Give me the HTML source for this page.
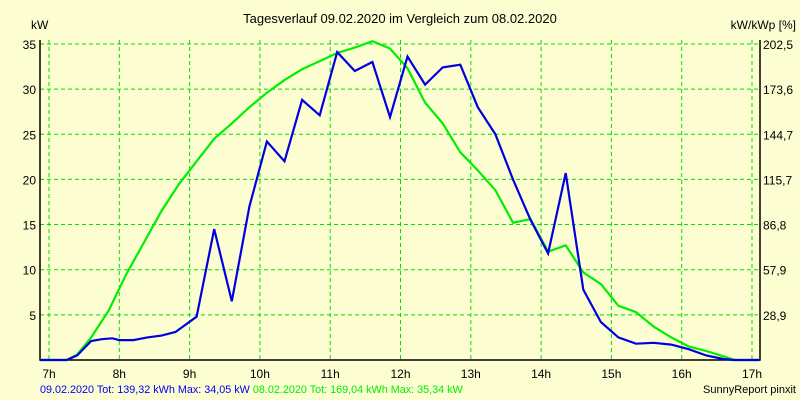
<!DOCTYPE html>
<html><head><meta charset="utf-8"><style>
body{margin:0;background:#fdfdd2;}
svg{display:block;font-family:"Liberation Sans",sans-serif;font-size:12px;}
</style></head><body>
<svg width="800" height="400">
<rect width="800" height="400" fill="#fdfdd2"/>
<g id="grid"></g><g id="axes"></g><g id="series"></g>
<text x="400" y="23" text-anchor="middle" font-size="13">Tagesverlauf 09.02.2020 im Vergleich zum 08.02.2020</text>
<text x="31" y="29">kW</text>
<text x="796" y="29" text-anchor="end">kW/kWp [%]</text>
<text x="40" y="393" font-size="10.8"><tspan fill="#0000ee">09.02.2020 Tot: 139,32 kWh Max: 34,05 kW</tspan><tspan fill="#00ee00"> 08.02.2020 Tot: 169,04 kWh Max: 35,34 kW</tspan></text>
<text x="796" y="393" text-anchor="end" font-size="11">SunnyReport pinxit</text>
</svg>
<script>
const hours=[7,8,9,10,11,12,13,14,15,16,17];
const yTicks=[5,10,15,20,25,30,35];
const y2Labels=["28,9","57,9","86,8","115,7","144,7","173,6","202,5"];
const blueT=[6.87,7.25,7.4,7.6,7.75,7.9,8.0,8.2,8.4,8.6,8.8,9.1,9.35,9.6,9.85,10.1,10.35,10.6,10.85,11.1,11.35,11.6,11.85,12.1,12.35,12.6,12.85,13.1,13.35,13.6,13.85,14.1,14.35,14.6,14.85,15.1,15.35,15.6,15.85,16.1,16.35,16.6,16.75,17.11];
const blueV=[0,0,0.5,2.1,2.3,2.4,2.2,2.2,2.5,2.7,3.1,4.8,14.5,6.5,17,24.2,22,28.8,27.1,34.1,32,33,26.9,33.6,30.5,32.4,32.7,28,25,20,15.5,11.8,20.7,7.8,4.2,2.5,1.8,1.9,1.7,1.2,0.5,0.1,0,0];
const greenT=[6.87,7.25,7.4,7.6,7.85,8.1,8.35,8.6,8.85,9.1,9.35,9.6,9.85,10.1,10.35,10.6,10.85,11.1,11.35,11.6,11.85,12.1,12.35,12.6,12.85,13.1,13.35,13.6,13.85,14.1,14.35,14.6,14.85,15.1,15.35,15.6,15.85,16.1,16.35,16.6,16.75,17.11];
const greenV=[0,0,0.6,2.5,5.5,9.5,13,16.5,19.5,22,24.5,26.2,28,29.6,31,32.2,33.1,34,34.6,35.3,34.5,32.3,28.5,26.2,23,21,18.8,15.2,15.6,12,12.7,9.7,8.4,6,5.3,3.7,2.5,1.5,1,0.4,0,0];
const NS="http://www.w3.org/2000/svg";
const X=h=>49+(h-7)*70.3, Y=v=>360-v*9.03;
function mk(t,a,p){const e=document.createElementNS(NS,t);for(const k in a)e.setAttribute(k,a[k]);p.appendChild(e);return e;}
const g=document.getElementById('grid'),ax=document.getElementById('axes'),s=document.getElementById('series');
hours.forEach(h=>{const l=mk('line',{x1:X(h),x2:X(h),y1:40,y2:360,stroke:'#00e000','stroke-dasharray':'4,3'},g);


const t=mk('text',{x:X(h),y:378,'text-anchor':'middle'},ax);t.textContent=h+'h';

});
yTicks.forEach((v,i)=>{const l=mk('line',{x1:40,x2:760,y1:Y(v),y2:Y(v),stroke:'#00e000','stroke-dasharray':'4,3'},g);


const t=mk('text',{x:36,y:Y(v)+5,'text-anchor':'end'},ax);t.textContent=v;


const t2=mk('text',{x:763,y:Y(v)+5},ax);t2.textContent=y2Labels[i];

});
const fr=mk('path',{d:'M40,40V360H760V40',fill:'none',stroke:'#000','stroke-width':1.5},ax);


function line(T,V,c,n){const p=mk('polyline',{points:T.map((t,i)=>X(t).toFixed(1)+','+Y(V[i]).toFixed(1)).join(' '),fill:'none',stroke:c,'stroke-width':2.2},s);

}
line(greenT,greenV,'#00ee00','series-08-02-2020');
line(blueT,blueV,'#0000e0','series-09-02-2020');
</script>
</body></html>
